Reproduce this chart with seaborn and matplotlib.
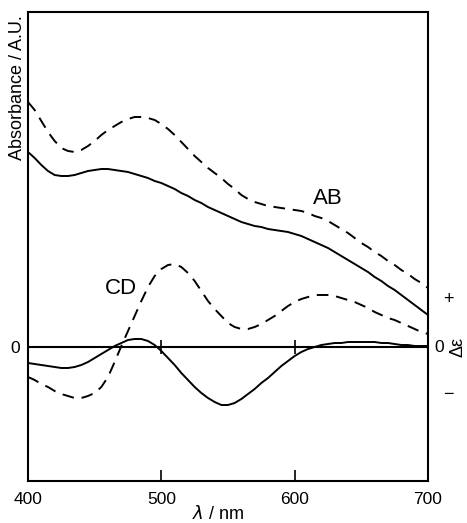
import numpy as np
import pandas as pd
import seaborn as sns
import matplotlib.pyplot as plt

# wavelength grid the curves were read at (nm)
nm_grid = list(range(400, 705, 5))

# absorption spectra (arbitrary units)
ab_dash_val = [245, 237, 226, 215, 206, 199, 196, 195, 197, 201, 206, 212, 217, 221, 225, 228,
               230, 230, 229, 227, 223, 218, 212, 205, 198, 191, 185, 179, 174, 169, 163, 158,
               152, 148, 145, 143, 141, 140, 139, 138, 137, 136, 134, 131, 129, 126, 122, 118,
               114, 109, 104, 100, 95, 91, 86, 82, 77, 73, 68, 64, 59]
ab_solid_val = [195, 189, 182, 176, 172, 171, 171, 172, 174, 176, 177, 178, 178, 177, 176, 175,
                173, 171, 169, 166, 164, 161, 158, 154, 151, 147, 144, 140, 137, 134, 131, 128,
                125, 123, 121, 120, 118, 117, 116, 115, 113, 111, 108, 105, 102, 99, 95, 91,
                87, 83, 79, 75, 70, 66, 61, 57, 52, 47, 42, 37, 32]

# circular dichroism spectra
cd_dash_val = [-30, -33, -37, -40, -44, -47, -49, -51, -51, -49, -46, -40, -30, -15, 1, 16,
               31, 46, 60, 71, 78, 82, 83, 80, 74, 66, 56, 46, 38, 31, 24, 20,
               18, 18, 20, 23, 27, 31, 36, 41, 45, 48, 50, 52, 52, 52, 51, 49,
               47, 45, 42, 39, 35, 32, 29, 27, 24, 21, 18, 15, 13]
cd_solid_val = [-16, -17, -18, -19, -20, -21, -21, -20, -18, -15, -11, -7, -3, 1, 4, 7,
                8, 8, 6, 2, -4, -11, -18, -26, -33, -40, -46, -51, -55, -58, -58, -56,
                -52, -47, -42, -36, -31, -25, -19, -14, -9, -5, -2, 0, 2, 3, 4, 4,
                5, 5, 5, 5, 5, 4, 4, 3, 2, 2, 1, 1, 1]

x_ticks = [400, 500, 600, 700]

df = pd.concat([
    pd.DataFrame({"nm": nm_grid, "val": ab_dash_val, "curve": "AB dashed"}),
    pd.DataFrame({"nm": nm_grid, "val": ab_solid_val, "curve": "AB solid"}),
    pd.DataFrame({"nm": nm_grid, "val": cd_dash_val, "curve": "CD dashed"}),
    pd.DataFrame({"nm": nm_grid, "val": cd_solid_val, "curve": "CD solid"}),
])

sns.set_style("white", {"text.color": "black", "axes.labelcolor": "black",
                        "xtick.color": "black", "ytick.color": "black"})
plt.rcParams['font.family'] = ['Liberation Sans', 'DejaVu Sans']

fig = plt.figure(figsize=(4.67, 5.23), dpi=100)
ax = fig.add_axes([28 / 467, 42 / 523, 400 / 467, 469 / 523])

for name, sub in df.groupby("curve"):
    ls = (0, (6, 4)) if "dashed" in name else "-"
    sns.lineplot(data=sub, x="nm", y="val", ax=ax, color="black", lw=1.4,
                 linestyle=ls, sort=False, legend=False)

# zero line for CD with small ticks
ax.axhline(0, color="black", lw=1.5)
ax.vlines([500, 600], -7, 7, color="black", lw=1.2)

ax.set_xlim(400, 700)
ax.set_ylim(-134, 335)
ax.set_xticks(x_ticks)
ax.set_xticklabels([str(t) for t in x_ticks], fontsize=12.5)
ax.tick_params(axis="x", direction="in", length=8, width=1.2, bottom=True, top=False, pad=8)
ax.set_yticks([0])
ax.set_yticklabels(["0"], fontsize=12.5)
ax.tick_params(axis="y", length=0, pad=6)

for s in ax.spines.values():
    s.set_color("black")
    s.set_linewidth(1.5)

ax.set_xlabel(r"$\lambda$ / nm", fontsize=13)
ax.xaxis.set_label_coords(0.475, -0.052)
ax.set_ylabel("Absorbance / A.U.", fontsize=13, loc="top")
ax.yaxis.set_label_coords(-0.006, 0.994)

ax.text(625, 149, "AB", fontsize=16, ha="center", va="center")
ax.text(470, 58, "CD", fontsize=16, ha="center", va="center")

tr = ax.get_yaxis_transform()
ax.text(1.015, 0, "0", transform=tr, fontsize=12.5, ha="left", va="center")
ax.text(1.05, 47, "+", transform=tr, fontsize=13, ha="center", va="center")
ax.text(1.05, -48, "\u2212", transform=tr, fontsize=13, ha="center", va="center")
ax.text(1.075, 0, "\u0394\u03b5", transform=tr, fontsize=13, ha="center", va="center", rotation=90)

fig.savefig("out.png", dpi=100)
